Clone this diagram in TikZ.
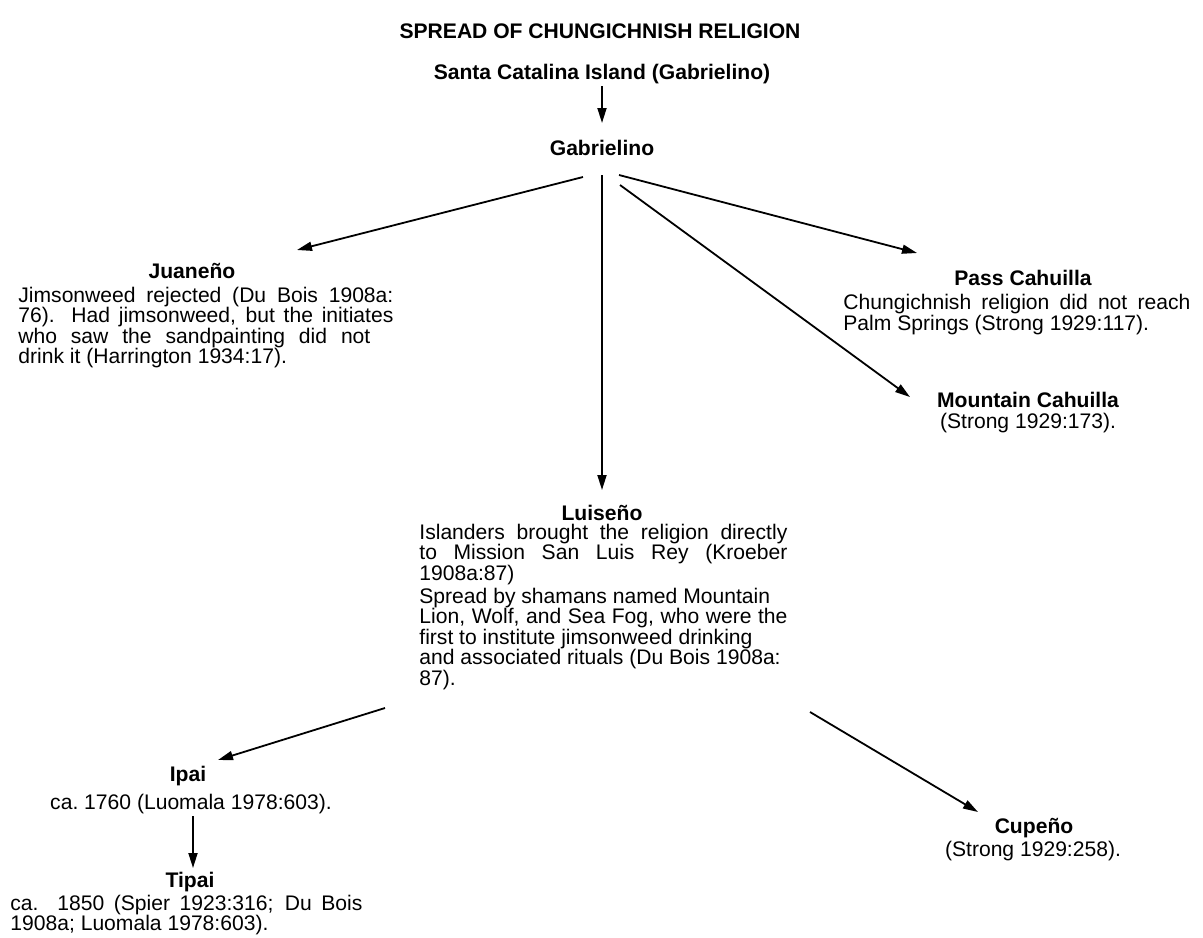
\documentclass[tikz,border=0pt]{standalone}
\usepackage{fontspec}
\setmainfont{Liberation Sans}
\usetikzlibrary{arrows.meta,calc}
\newcommand{\txtsize}{\fontsize{10.55pt}{10.3pt}\selectfont}
\tolerance=10000
\hbadness=10000

\begin{document}
\begin{tikzpicture}[x=0.5pt,y=-0.5pt,
            every node/.style={inner sep=0pt,font=\txtsize},
            head/.style={anchor=base,font=\txtsize\bfseries},
            note/.style={anchor=base},
            blurb/.style={anchor=base west,align=justify},
            arr/.style={-{Triangle[length=7.5pt,width=4.5pt]},line width=0.9pt}]
            \useasboundingbox (0,0) rectangle (1203,937);
            % headings
            \node[head] (title) at (600,38) {SPREAD OF CHUNGICHNISH RELIGION};
            \node[head] (santa) at (602,79) {Santa Catalina Island (Gabrielino)};
            \node[head] (gab) at (602,155) {Gabrielino};
            % first ring
            \node[head] (juan) at (192,278) {Juaneño};
            \node[blurb,text width=187.5pt] (juantxt) at (18,302) {Jimsonweed rejected (Du Bois 1908a:\linebreak 76). Had jimsonweed, but the initiates\linebreak who saw the sandpainting did not\hspace*{11.5pt}\linebreak drink it (Harrington 1934:17).};
            \node[head] (pass) at (1023,285) {Pass Cahuilla};
            \node[blurb,text width=173.5pt] (passtxt) at (843,309.5) {Chungichnish religion did not reach\linebreak Palm Springs (Strong 1929:117).};
            \node[head] (mount) at (1028,407) {Mountain Cahuilla};
            \node[note] (mounttxt) at (1028,428) {(Strong 1929:173).};
            \node[head] (luis) at (602,520) {Luiseño};
            \node[blurb,text width=184pt] (luistxt) at (419,539) {Islanders brought the religion directly\linebreak to Mission San Luis Rey (Kroeber\linebreak 1908a:87)};
            \node[blurb,text width=184pt] (luismore) at (419,603) {Spread by shamans named Mountain\newline Lion, Wolf, and Sea Fog, who were the\linebreak first to institute jimsonweed drinking\newline and associated rituals (Du Bois 1908a:\newline 87).};
            % south
            \node[head] (ipai) at (188,781) {Ipai};
            \node[note] (ipaitxt) at (191,809) {ca.\ 1760 (Luomala 1978:603).};
            \node[head] (tipai) at (190,887) {Tipai};
            \node[blurb,text width=176pt] (tipaitxt) at (10,910) {ca. 1850 (Spier 1923:316; Du Bois\linebreak 1908a; Luomala 1978:603).};
            \node[head] (cup) at (1034,833) {Cupeño};
            \node[note] (cuptxt) at (1033,856) {(Strong 1929:258).};
            % arrows
            \draw[arr] ($(santa.base)+(0,7)$) -- ($(gab.base)+(0,-32)$);
            \draw[arr] ($(gab.base)+(-19,22)$) -- ($(juan.base)+(105,-28)$);
            \draw[arr] ($(gab.base)+(0,20)$) -- ($(luis.base)+(0,-30)$);
            \draw[arr] ($(gab.base)+(17,20)$) -- ($(pass.base)+(-106,-32)$);
            \draw[arr] ($(gab.base)+(18,30)$) -- ($(mount.base)+(-118,-10)$);
            \draw[arr] ($(luismore.base west)+(-34,105)$) -- ($(ipai.base)+(30,-21)$);
            \draw[arr] ($(luismore.base west)+(391,109)$) -- ($(cup.base)+(-56,-21)$);
            \draw[arr] ($(ipaitxt.base)+(2,7)$) -- ($(tipai.base)+(3,-19)$);
        \end{tikzpicture}
\end{document}
